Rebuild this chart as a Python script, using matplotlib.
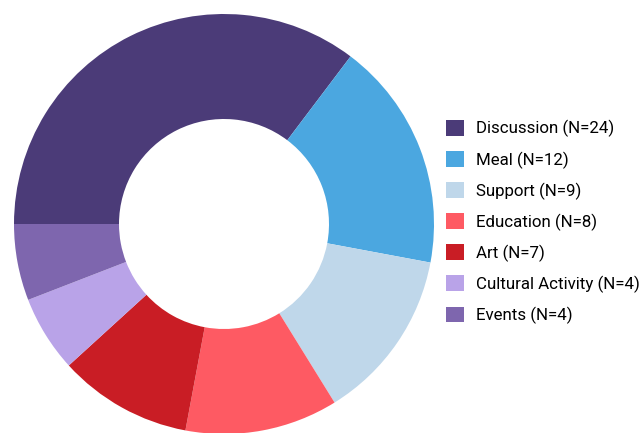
import matplotlib
matplotlib.use('Agg')
from matplotlib import pyplot as plt
from matplotlib.patches import Patch

categories = ['Discussion', 'Meal', 'Support', 'Education', 'Art', 'Cultural Activity', 'Events']
counts = [24, 12, 9, 8, 7, 4, 4]
colors = ['#4b3b78', '#4ba7e0', '#bfd7ea', '#fe5a63', '#c91d25', '#b9a3e8', '#7e66ae']

plt.rcParams['font.family'] = ['Roboto', 'DejaVu Sans']

fig = plt.figure(figsize=(6.42, 4.33), dpi=100)
# 圆环的位置按像素算
ax = fig.add_axes([14 / 642, -1 / 433, 420 / 642, 420 / 433])
ax.pie(counts, colors=colors, startangle=180, counterclock=False,
       radius=1, wedgeprops=dict(width=0.5, linewidth=0))
ax.set_xlim(-1, 1)
ax.set_ylim(-1, 1)
ax.set_aspect('equal')
ax.axis('off')

labels = ['{} (N={})'.format(c, n) for c, n in zip(categories, counts)]
handles = [Patch(facecolor=c, edgecolor='none') for c in colors]
fig.legend(handles, labels, loc='center left', bbox_to_anchor=(446 / 642, 1 - 222 / 433),
           frameon=False, fontsize=12.2, handlelength=1.06, handleheight=1.06,
           handletextpad=0.7, labelspacing=0.8, borderaxespad=0, borderpad=0)

fig.savefig('out.png', dpi=100)
